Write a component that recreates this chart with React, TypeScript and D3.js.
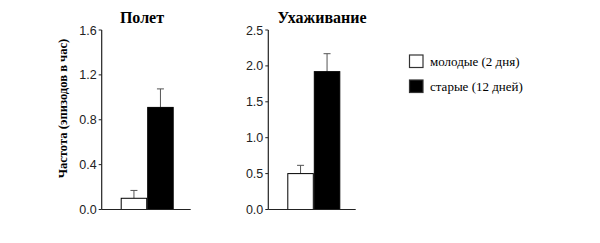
import React from "react";
import * as d3 from "d3";

const groups = ["молодые (2 дня)", "старые (12 дней)"];
const panelTitles = ["Полет", "Ухаживание"];
const flightMeans = [0.1, 0.91];
const flightErrors = [0.07, 0.165];
const courtMeans = [0.5, 1.92];
const courtErrors = [0.115, 0.25];
const flightTicks = [0, 0.4, 0.8, 1.2, 1.6];
const courtTicks = [0, 0.5, 1.0, 1.5, 2.0, 2.5];
const yLabel = "Частота (эпизодов в час)";
const fills = ["#ffffff", "#000000"];

const SERIF = "'Liberation Serif', 'Times New Roman', Times, 'DejaVu Serif', serif";
const SANS = "'Liberation Sans', Arial, sans-serif";

type PanelProps = {
  title: string;
  means: number[];
  errors: number[];
  ticks: number[];
  max: number;
  axisX: number;
  axisEnd: number;
  barStart: number;
  barEnd: number;
  titleX: number;
};

function Panel(p: PanelProps) {
  const y = d3.scaleLinear().domain([0, p.max]).range([209.5, 30]);
  const x = d3.scaleBand<string>().domain(groups).range([p.barStart, p.barEnd]).padding(0);
  const fmt = d3.format(".1f");
  return (
    <g>
      <text x={p.titleX} y={23} textAnchor="middle" style={{ fontFamily: SERIF, fontWeight: "bold", fontSize: "16px" }} fill="#000">
        {p.title}
      </text>
      {groups.map((g, i) => {
        const cx = (x(g) as number) + x.bandwidth() / 2;
        const top = y(p.means[i] + p.errors[i]);
        return (
          <g key={g}>
            <line x1={cx} x2={cx} y1={y(p.means[i])} y2={top} stroke="#555" strokeWidth={1} />
            <line x1={cx - 3.5} x2={cx + 3.5} y1={top} y2={top} stroke="#555" strokeWidth={1} />
          </g>
        );
      })}
      {groups.map((g, i) => (
        <rect
          key={g}
          x={(x(g) as number) + 0.5}
          y={y(p.means[i])}
          width={x.bandwidth() - 1}
          height={y(0) - y(p.means[i])}
          fill={fills[i]}
          stroke="#000"
          strokeWidth={1}
        />
      ))}
      <line x1={p.axisX} x2={p.axisX} y1={y(p.max)} y2={y(0)} stroke="#222" strokeWidth={1.2} />
      <line x1={p.axisX} x2={p.axisEnd} y1={y(0)} y2={y(0)} stroke="#222" strokeWidth={1.2} />
      {p.ticks.map((t) => (
        <g key={t}>
          <line x1={p.axisX - 3} x2={p.axisX} y1={y(t)} y2={y(t)} stroke="#222" strokeWidth={1} />
          <text x={p.axisX - 5} y={y(t)} dy="0.36em" textAnchor="end" style={{ fontFamily: SANS, fontSize: "12.5px" }} fill="#222">
            {fmt(t)}
          </text>
        </g>
      ))}
    </g>
  );
}

export default function App() {
  return (
    <svg width={600} height={243} style={{ position: "absolute", left: 0, top: 0, background: "#fff" }}>
      <rect x={0} y={0} width={600} height={243} fill="#fff" />
      <text
        transform="translate(67,108.5) rotate(-90)"
        textAnchor="middle"
        style={{ fontFamily: SERIF, fontWeight: "bold", fontSize: "12.6px" }}
        fill="#000"
      >
        {yLabel}
      </text>
      <Panel title={panelTitles[0]} means={flightMeans} errors={flightErrors} ticks={flightTicks} max={1.6}
        axisX={101.7} axisEnd={190.7} barStart={120.7} barEnd={173.7} titleX={142} />
      <Panel title={panelTitles[1]} means={courtMeans} errors={courtErrors} ticks={courtTicks} max={2.5}
        axisX={268.3} axisEnd={355.7} barStart={287.3} barEnd={340.3} titleX={322} />
      {groups.map((g, i) => (
        <g key={g} transform={`translate(409.5,${55 + i * 25})`}>
          <rect x={0} y={0} width={13.5} height={12.5} fill={fills[i]} stroke="#333" strokeWidth={1.2} />
          <text x={20.5} y={10.5} style={{ fontFamily: SERIF, fontSize: "13px" }} fill="#000">
            {g}
          </text>
        </g>
      ))}
    </svg>
  );
}
